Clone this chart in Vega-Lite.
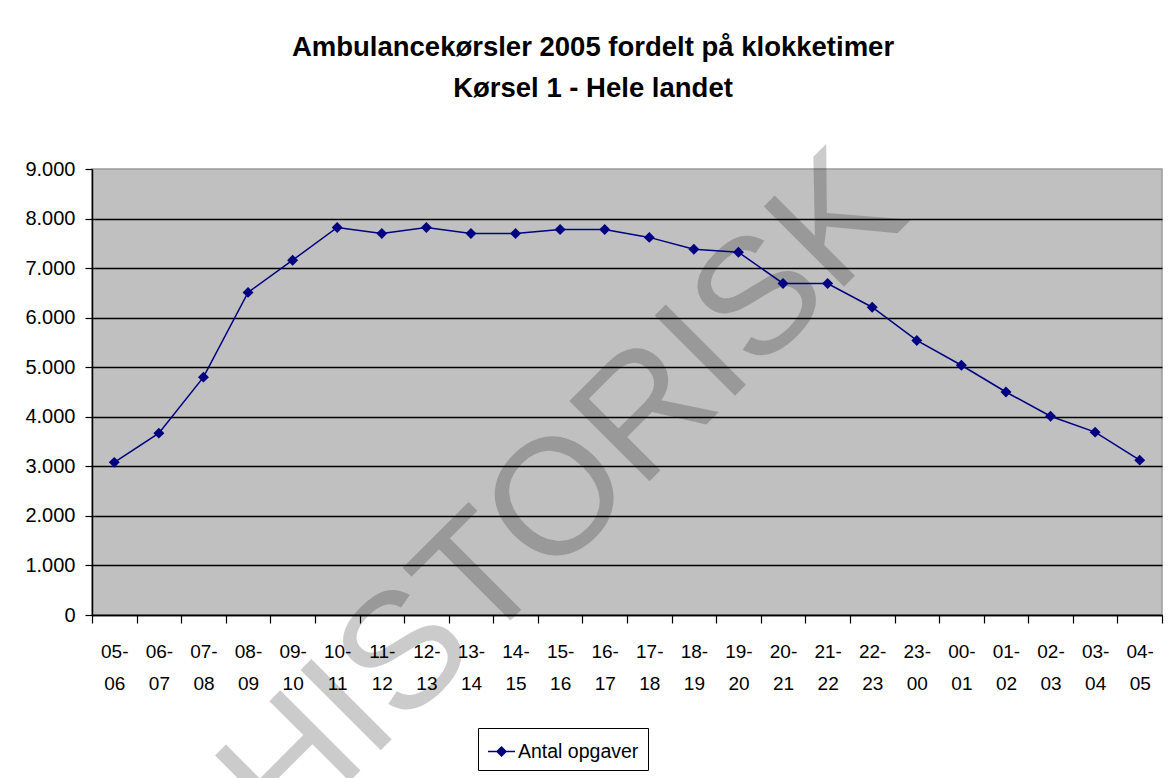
{
  "$schema": "https://vega.github.io/schema/vega-lite/v6.json",
  "width": 1070,
  "height": 446,
  "autosize": {"type": "none"},
  "padding": {"left": 92, "top": 169, "right": 6, "bottom": 163},
  "background": "white",
  "config": {
    "view": {"fill": "#C0C0C0", "stroke": "#9a9a9a", "strokeWidth": 1.5},
    "font": "Liberation Sans"
  },
  "title": {
    "text": ["Ambulancekørsler 2005 fordelt på klokketimer", "Kørsel 1 - Hele landet"],
    "font": "Liberation Sans",
    "fontSize": 27.5,
    "fontWeight": "bold",
    "lineHeight": 41,
    "anchor": "middle",
    "dx": -34,
    "offset": 23,
    "color": "black"
  },
  "datasets": {
    "main": [
      {"slot": "05-06", "antal": 3080},
      {"slot": "06-07", "antal": 3670},
      {"slot": "07-08", "antal": 4800},
      {"slot": "08-09", "antal": 6510},
      {"slot": "09-10", "antal": 7160},
      {"slot": "10-11", "antal": 7820},
      {"slot": "11-12", "antal": 7700},
      {"slot": "12-13", "antal": 7820},
      {"slot": "13-14", "antal": 7700},
      {"slot": "14-15", "antal": 7700},
      {"slot": "15-16", "antal": 7780},
      {"slot": "16-17", "antal": 7780},
      {"slot": "17-18", "antal": 7620},
      {"slot": "18-19", "antal": 7380},
      {"slot": "19-20", "antal": 7320},
      {"slot": "20-21", "antal": 6690},
      {"slot": "21-22", "antal": 6690},
      {"slot": "22-23", "antal": 6210},
      {"slot": "23-00", "antal": 5540},
      {"slot": "00-01", "antal": 5040},
      {"slot": "01-02", "antal": 4500},
      {"slot": "02-03", "antal": 4010},
      {"slot": "03-04", "antal": 3690},
      {"slot": "04-05", "antal": 3125}
    ],
    "mark": [
      {"slot": "15-16", "antal": 2320, "tekst": "HISTORISK"}
    ]
  },
  "encoding": {
    "x": {
      "field": "slot",
      "type": "ordinal",
      "sort": null,
      "scale": {
        "type": "band",
        "paddingInner": 0,
        "paddingOuter": 0,
        "domain": ["05-06","06-07","07-08","08-09","09-10","10-11","11-12","12-13","13-14","14-15","15-16","16-17","17-18","18-19","19-20","20-21","21-22","22-23","23-00","00-01","01-02","02-03","03-04","04-05"]
      },
      "axis": {
        "title": null,
        "tickBand": "extent",
        "labelAngle": 0,
        "labelFontSize": 19,
        "labelColor": "black",
        "labelLineHeight": 32,
        "labelPadding": 19,
        "labelOverlap": false,
        "labelExpr": "[slice(datum.label, 0, 3), slice(datum.label, 3)]",
        "domainColor": "black",
        "domainWidth": 1.5,
        "tickColor": "black",
        "tickWidth": 1.2,
        "tickSize": 8
      }
    },
    "y": {
      "field": "antal",
      "type": "quantitative",
      "scale": {"domain": [0, 9000], "nice": false},
      "axis": {
        "title": null,
        "values": [0, 1000, 2000, 3000, 4000, 5000, 6000, 7000, 8000, 9000],
        "grid": true,
        "gridColor": {"condition": {"test": "datum.value === 9000", "value": "transparent"}, "value": "black"},
        "gridWidth": 1.5,
        "labelFontSize": 20,
        "labelColor": "black",
        "labelPadding": 10,
        "labelExpr": "replace(format(datum.value, ','), ',', '.')",
        "domainColor": "black",
        "domainWidth": 1.5,
        "tickColor": "black",
        "tickWidth": 1.2,
        "tickSize": 7
      }
    }
  },
  "layer": [
    {
      "data": {"name": "mark"},
      "mark": {
        "type": "text",
        "font": "Liberation Sans",
        "fontSize": 165,
        "angle": -45,
        "align": "center",
        "baseline": "middle",
        "dx": 5,
        "color": "black",
        "opacity": 0.2
      },
      "encoding": {"text": {"field": "tekst"}}
    },
    {
      "data": {"name": "main"},
      "mark": {"type": "line", "color": "#000080", "strokeWidth": 1.5}
    },
    {
      "data": {"name": "main"},
      "mark": {"type": "point", "shape": "diamond", "size": 120, "filled": true, "opacity": 1},
      "encoding": {
        "color": {
          "datum": "Antal opgaver",
          "scale": {"range": ["#000080"]},
          "legend": {
            "title": null,
            "orient": "none",
            "legendX": 386,
            "legendY": 559,
            "strokeColor": "black",
            "fillColor": "white",
            "padding": 9,
            "labelFontSize": 19.5,
            "labelColor": "black",
            "labelFont": "Liberation Sans",
            "labelOffset": 2,
            "symbolType": "M-1,0H1M0,-0.33L0.33,0L0,0.33L-0.33,0Z",
            "symbolSize": 729,
            "symbolStrokeColor": "#000080",
            "symbolStrokeWidth": 1.5,
            "symbolFillColor": "#000080",
            "encode": {
              "symbols": {
                "shape": {"value": "M-1,0H1M0,-0.33L0.33,0L0,0.33L-0.33,0Z"},
                "size": {"value": 729},
                "stroke": {"value": "#000080"},
                "strokeWidth": {"value": 1.5},
                "strokeOpacity": {"value": 1},
                "fill": {"value": "#000080"},
                "fillOpacity": {"value": 1},
                "opacity": {"value": 1}
              }
            }
          }
        }
      }
    }
  ]
}
